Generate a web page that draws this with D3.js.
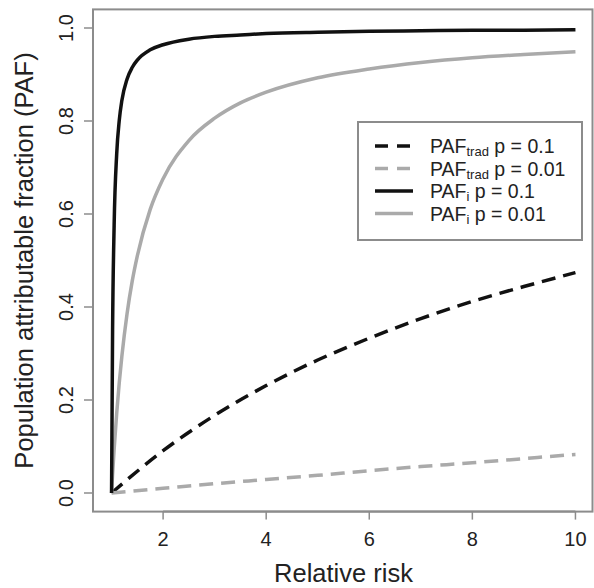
<!DOCTYPE html>
<html>
<head>
<meta charset="utf-8">
<script src="https://cdn.jsdelivr.net/npm/d3@7"></script>
<style>
  body { margin: 0; background: #fff; }
  text { font-family: "Liberation Sans", Arial, Helvetica, sans-serif; fill: #222; }
</style>
</head>
<body>
<div id="chart"></div>
<script>
// relative risk grid and the PAF values
var rrTrad = [1, 2, 3, 4, 5, 6, 7, 8, 9, 10];
var tradP1 = [0, 0.091, 0.167, 0.231, 0.286, 0.333, 0.375, 0.412, 0.444, 0.474];
var tradP01 = [0, 0.010, 0.020, 0.029, 0.038, 0.048, 0.057, 0.065, 0.074, 0.083];

var rrI = [1, 1.02, 1.05, 1.1, 1.15, 1.2, 1.3, 1.4, 1.5, 1.75, 2, 2.5, 3, 3.5, 4, 5, 6, 7, 8, 9, 10];
var iP1 = [0, 0.351, 0.575, 0.730, 0.802, 0.844, 0.890, 0.915, 0.931, 0.953, 0.964, 0.976, 0.982,
           0.985, 0.988, 0.991, 0.993, 0.994, 0.995, 0.995, 0.996];
var iP01 = [0, 0.040, 0.094, 0.172, 0.238, 0.294, 0.385, 0.455, 0.510, 0.610, 0.676, 0.758, 0.806,
            0.839, 0.862, 0.893, 0.912, 0.926, 0.936, 0.943, 0.949];

var xTicks = [2, 4, 6, 8, 10];
var yTicks = [0, 0.2, 0.4, 0.6, 0.8, 1.0];

var W = 594, H = 588;
var svg = d3.select("#chart").append("svg").attr("width", W).attr("height", H);

// R style axes: 4% padding on each side
var x = d3.scaleLinear().domain([1 - 0.36, 10 + 0.36]).range([93, 594]);
var y = d3.scaleLinear().domain([-0.04, 1.04]).range([511.6, 9.4]);

var boxCol = "#8c8c8c";

// plot box
svg.append("rect")
  .attr("x", x.range()[0]).attr("y", y.range()[1])
  .attr("width", x.range()[1] - x.range()[0] - 1.5)
  .attr("height", y.range()[0] - y.range()[1])
  .attr("fill", "none").attr("stroke", boxCol).attr("stroke-width", 2);

// x axis
var xAxis = svg.append("g").attr("transform", "translate(0," + y.range()[0] + ")");
xAxis.append("line").attr("x1", x(2)).attr("x2", x(10))
  .attr("stroke", boxCol).attr("stroke-width", 2);
xAxis.selectAll(".tk").data(xTicks).enter().append("line")
  .attr("x1", d => x(d)).attr("x2", d => x(d)).attr("y1", 0).attr("y2", 8)
  .attr("stroke", boxCol).attr("stroke-width", 1.5);
xAxis.selectAll(".lb").data(xTicks).enter().append("text")
  .attr("x", d => x(d)).attr("y", 34)
  .attr("text-anchor", "middle").style("font-size", "20px")
  .text(d => d);

// y axis
var yAxis = svg.append("g").attr("transform", "translate(" + x.range()[0] + ",0)");
yAxis.append("line").attr("y1", y(0)).attr("y2", y(1))
  .attr("stroke", boxCol).attr("stroke-width", 2);
yAxis.selectAll(".tk").data(yTicks).enter().append("line")
  .attr("y1", d => y(d)).attr("y2", d => y(d)).attr("x1", 0).attr("x2", -9)
  .attr("stroke", boxCol).attr("stroke-width", 1.5);
yAxis.selectAll(".lb").data(yTicks).enter().append("text")
  .attr("transform", d => "translate(-20," + y(d) + ") rotate(-90)")
  .attr("text-anchor", "middle").style("font-size", "20px")
  .text(d => d.toFixed(1));

// axis titles
svg.append("text")
  .attr("x", (x.range()[0] + x.range()[1]) / 2).attr("y", 582)
  .attr("text-anchor", "middle").style("font-size", "25.5px")
  .text("Relative risk");
svg.append("text")
  .attr("transform", "translate(33," + (y.range()[0] + y.range()[1]) / 2 + ") rotate(-90)")
  .attr("text-anchor", "middle").style("font-size", "25.5px")
  .text("Population attributable fraction (PAF)");

// curves
var series = [
  { rr: rrTrad, v: tradP1, color: "#111", dash: "14,8" },
  { rr: rrTrad, v: tradP01, color: "#aaaaaa", dash: "14,8" },
  { rr: rrI, v: iP01, color: "#aaaaaa", dash: null },
  { rr: rrI, v: iP1, color: "#111", dash: null }
];
var line = d3.line().x(d => x(d[0])).y(d => y(d[1])).curve(d3.curveMonotoneX);
series.forEach(function (s) {
  svg.append("path")
    .datum(s.rr.map((r, i) => [r, s.v[i]]))
    .attr("d", line)
    .attr("fill", "none")
    .attr("stroke", s.color)
    .attr("stroke-width", 3.5)
    .attr("stroke-dasharray", s.dash);
});

// legend
var legendItems = [
  { sub: "trad", rest: " p = 0.1", color: "#111", dash: "13,9" },
  { sub: "trad", rest: " p = 0.01", color: "#aaaaaa", dash: "13,9" },
  { sub: "i", rest: " p = 0.1", color: "#111", dash: null },
  { sub: "i", rest: " p = 0.01", color: "#aaaaaa", dash: null }
];
var lg = svg.append("g");
lg.append("rect").attr("x", 358).attr("y", 122).attr("width", 224).attr("height", 118)
  .attr("fill", "#fff").attr("stroke", boxCol).attr("stroke-width", 2);
legendItems.forEach(function (d, i) {
  var yy = 146 + i * 22.5;
  lg.append("line").attr("x1", 375).attr("x2", 413).attr("y1", yy).attr("y2", yy)
    .attr("stroke", d.color).attr("stroke-width", 3.5).attr("stroke-dasharray", d.dash);
  var t = lg.append("text").attr("x", 430).attr("y", yy + 7).style("font-size", "19.5px");
  t.append("tspan").text("PAF");
  t.append("tspan").attr("dy", 3).style("font-size", "13px").text(d.sub);
  t.append("tspan").attr("dy", -3).text(d.rest);
});
</script>
</body>
</html>
